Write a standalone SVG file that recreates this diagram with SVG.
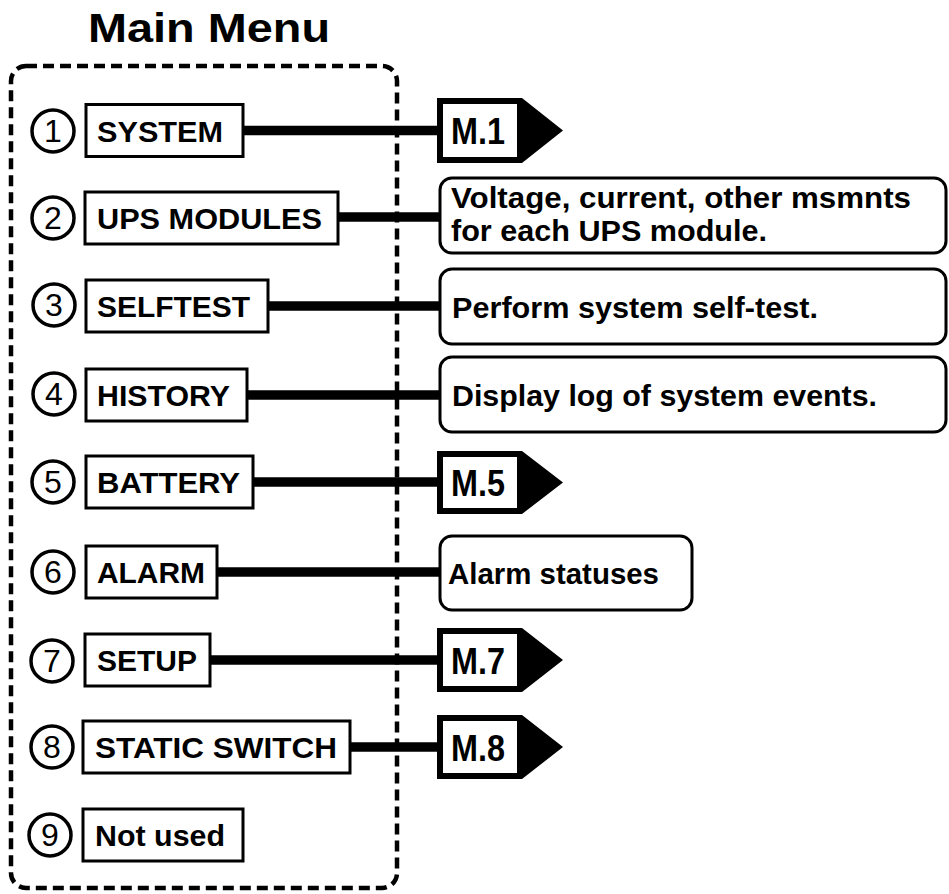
<svg xmlns="http://www.w3.org/2000/svg" width="949" height="894" viewBox="0 0 949 894">
<style>
text{font-family:"Liberation Sans",Arial,sans-serif;fill:#000}
.b{font-weight:bold;font-size:30px}
.title{font-weight:bold;font-size:41px}
.num{font-size:32px;text-anchor:middle}
.tag{font-weight:bold;font-size:37px}
.item{fill:#fff;stroke:#000;stroke-width:3}
.desc{fill:#fff;stroke:#000;stroke-width:3}
.circ{fill:#fff;stroke:#000;stroke-width:3.5}
.conn{stroke:#000;stroke-width:9.5;fill:none}
.dash{fill:none;stroke:#000;stroke-width:4.5;stroke-dasharray:11 6}
</style>
<rect width="949" height="894" fill="#fff"/>
<text class="title" x="88" y="42" textLength="242" lengthAdjust="spacingAndGlyphs">Main Menu</text>
<g id="connectors">
<line class="conn" x1="243" y1="130.5" x2="441" y2="130.5"/>
<line class="conn" x1="338" y1="217" x2="441" y2="217"/>
<line class="conn" x1="268" y1="306" x2="441" y2="306"/>
<line class="conn" x1="247" y1="395" x2="441" y2="395"/>
<line class="conn" x1="253" y1="482" x2="441" y2="482"/>
<line class="conn" x1="217" y1="572" x2="441" y2="572"/>
<line class="conn" x1="210" y1="660" x2="441" y2="660"/>
<line class="conn" x1="350" y1="747" x2="441" y2="747"/>
</g>
<rect id="mainmenu" class="dash" x="11" y="66" width="386" height="822" rx="15"/>
<g id="n1"><circle class="circ" cx="53" cy="131" r="21"/><text class="num" x="53" y="142">1</text><rect class="item" x="86" y="104.5" width="157" height="52"/><text class="b" x="97" y="141.5" textLength="126" lengthAdjust="spacingAndGlyphs">SYSTEM</text></g>
<g id="n2"><circle class="circ" cx="53" cy="218" r="21"/><text class="num" x="53" y="229">2</text><rect class="item" x="85" y="192" width="253" height="52"/><text class="b" x="97" y="229" textLength="225" lengthAdjust="spacingAndGlyphs">UPS MODULES</text></g>
<g id="n3"><circle class="circ" cx="54" cy="305" r="21"/><text class="num" x="54" y="316">3</text><rect class="item" x="86" y="280" width="182" height="52"/><text class="b" x="97" y="317" textLength="153" lengthAdjust="spacingAndGlyphs">SELFTEST</text></g>
<g id="n4"><circle class="circ" cx="54" cy="394" r="21"/><text class="num" x="54" y="405">4</text><rect class="item" x="86" y="369" width="161" height="52"/><text class="b" x="97" y="406" textLength="133" lengthAdjust="spacingAndGlyphs">HISTORY</text></g>
<g id="n5"><circle class="circ" cx="53" cy="482" r="21"/><text class="num" x="53" y="493">5</text><rect class="item" x="86" y="456" width="167" height="52"/><text class="b" x="97" y="493" textLength="143" lengthAdjust="spacingAndGlyphs">BATTERY</text></g>
<g id="n6"><circle class="circ" cx="53" cy="572" r="21"/><text class="num" x="53" y="583">6</text><rect class="item" x="86" y="546" width="131" height="52"/><text class="b" x="97" y="583" textLength="108" lengthAdjust="spacingAndGlyphs">ALARM</text></g>
<g id="n7"><circle class="circ" cx="52" cy="661" r="21"/><text class="num" x="52" y="672">7</text><rect class="item" x="85" y="634" width="125" height="52"/><text class="b" x="97" y="671" textLength="100" lengthAdjust="spacingAndGlyphs">SETUP</text></g>
<g id="n8"><circle class="circ" cx="52" cy="747" r="21"/><text class="num" x="52" y="758">8</text><rect class="item" x="83" y="721" width="267" height="52"/><text class="b" x="95" y="758" textLength="242" lengthAdjust="spacingAndGlyphs">STATIC SWITCH</text></g>
<g id="n9"><circle class="circ" cx="50" cy="835" r="21"/><text class="num" x="50" y="846">9</text><rect class="item" x="83" y="809" width="160" height="52"/><text class="b" x="95" y="846" textLength="130" lengthAdjust="spacingAndGlyphs">Not used</text></g>
<g id="m1"><polygon points="437,98 522,98 563,130.5 522,163 437,163"/><rect x="443" y="104" width="74" height="53" fill="#fff"/><text class="tag" x="451" y="143.5" textLength="54" lengthAdjust="spacingAndGlyphs">M.1</text></g>
<g id="d2"><rect class="desc" x="440" y="178" width="506" height="75" rx="12"/><text class="b" x="451" y="208" textLength="460" lengthAdjust="spacingAndGlyphs">Voltage, current, other msmnts</text><text class="b" x="451" y="241" textLength="316" lengthAdjust="spacingAndGlyphs">for each UPS module.</text></g>
<g id="d3"><rect class="desc" x="440" y="269" width="506" height="75" rx="12"/><text class="b" x="452" y="317.5" textLength="366" lengthAdjust="spacingAndGlyphs">Perform system self-test.</text></g>
<g id="d4"><rect class="desc" x="440" y="357" width="506" height="75" rx="12"/><text class="b" x="452" y="405.5" textLength="425" lengthAdjust="spacingAndGlyphs">Display log of system events.</text></g>
<g id="m5"><polygon points="437,451 522,451 563,482.5 522,514 437,514"/><rect x="443" y="457" width="74" height="51" fill="#fff"/><text class="tag" x="451" y="496" textLength="54" lengthAdjust="spacingAndGlyphs">M.5</text></g>
<g id="d6"><rect class="desc" x="440" y="536" width="252" height="74" rx="12"/><text class="b" x="448" y="583.5" textLength="211" lengthAdjust="spacingAndGlyphs">Alarm statuses</text></g>
<g id="m7"><polygon points="437,628 522,628 563,660 522,692 437,692"/><rect x="443" y="634" width="74" height="52" fill="#fff"/><text class="tag" x="451" y="674" textLength="54" lengthAdjust="spacingAndGlyphs">M.7</text></g>
<g id="m8"><polygon points="437,715 522,715 563,747 522,779 437,779"/><rect x="443" y="721" width="74" height="52" fill="#fff"/><text class="tag" x="451" y="761" textLength="54" lengthAdjust="spacingAndGlyphs">M.8</text></g>
</svg>
